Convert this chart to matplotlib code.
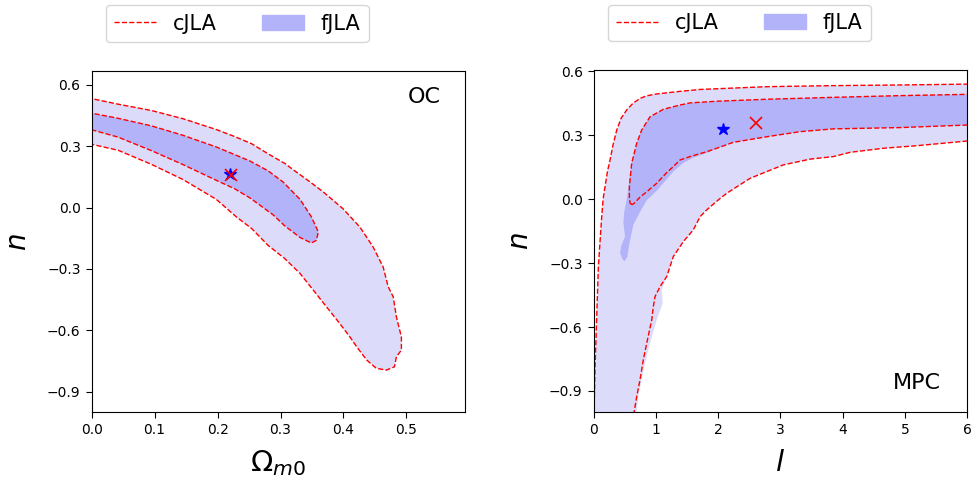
import matplotlib
matplotlib.use("Agg")
import matplotlib.pyplot as plt
from matplotlib.lines import Line2D
from matplotlib.patches import Patch

# ---- OC model: (Omega_m0, n) confidence contours ----
# 2-sigma region (same contour for cJLA line and fJLA fill)
oc_out_x = [-0.03, 0.0, 0.042, 0.095, 0.145, 0.198, 0.227, 0.254, 0.280, 0.307, 0.320,
            0.347, 0.368, 0.399, 0.426, 0.447, 0.463, 0.471, 0.479, 0.484, 0.492, 0.492,
            0.484, 0.481, 0.468, 0.452, 0.437, 0.421, 0.410, 0.394, 0.373, 0.352, 0.331,
            0.307, 0.280, 0.254, 0.230, 0.198, 0.145, 0.095, 0.042, 0.0, -0.03]
oc_out_y = [0.55, 0.532, 0.505, 0.474, 0.434, 0.381, 0.347, 0.312, 0.263, 0.215, 0.185,
            0.125, 0.076, -0.005, -0.095, -0.192, -0.290, -0.387, -0.436, -0.534, -0.632, -0.696,
            -0.729, -0.778, -0.794, -0.785, -0.745, -0.680, -0.631, -0.566, -0.485, -0.403, -0.322,
            -0.250, -0.184, -0.102, -0.046, 0.040, 0.137, 0.211, 0.280, 0.309, 0.33]
# 1-sigma region
oc_in_x = [-0.03, 0.0, 0.042, 0.095, 0.145, 0.198, 0.251, 0.280, 0.304, 0.331, 0.349,
           0.360, 0.357, 0.349, 0.331, 0.307, 0.288, 0.251, 0.227, 0.198, 0.145, 0.095,
           0.042, 0.0, -0.03]
oc_in_y = [0.475, 0.461, 0.436, 0.399, 0.353, 0.296, 0.228, 0.180, 0.125, 0.040, -0.045,
           -0.119, -0.160, -0.173, -0.146, -0.090, -0.035, 0.048, 0.092, 0.133, 0.210, 0.278,
           0.344, 0.380, 0.40]
oc_best_f = (0.22, 0.165)
oc_best_c = (0.221, 0.158)

# ---- MPC model: (l, n) confidence contours ----
mpc_out_x = [0.0, 0.005, 0.021, 0.048, 0.074, 0.110, 0.128, 0.150, 0.182, 0.220, 0.262,
             0.310, 0.370, 0.440, 0.530, 0.630, 0.744, 0.850, 1.013, 1.387, 1.709, 2.780,
             3.851, 4.923, 6.0, 6.3, 6.3, 6.0, 5.190, 4.654, 4.120, 3.851, 3.476, 3.047,
             2.512, 2.138, 2.003, 1.816, 1.709, 1.600, 1.440, 1.279, 1.173, 1.066, 0.985,
             0.958, 0.932, 0.852, 0.797, 0.744, 0.691, 0.648, 0.63]
mpc_out_y = [-1.1, -0.99, -0.785, -0.550, -0.316, -0.160, -0.082, 0.0, 0.060, 0.130, 0.184,
             0.255, 0.325, 0.380, 0.419, 0.450, 0.473, 0.485, 0.494, 0.506, 0.515, 0.528,
             0.533, 0.536, 0.540, 0.545, 0.270, 0.273, 0.251, 0.239, 0.220, 0.200, 0.188, 0.161,
             0.098, 0.028, -0.003, -0.050, -0.082, -0.144, -0.199, -0.269, -0.363, -0.410, -0.457,
             -0.503, -0.566, -0.675, -0.753, -0.847, -0.925, -1.0, -1.1]
# fJLA outer region bulges out slightly on the lower branch
mpc_out_fill_x = mpc_out_x[:43] + [1.093, 1.109, 1.013, 0.900, 0.800, 0.720, 0.690, 0.68]
mpc_out_fill_y = mpc_out_y[:43] + [-0.425, -0.488, -0.566, -0.680, -0.800, -0.920, -1.0, -1.1]

mpc_in_x = [0.610, 0.584, 0.573, 0.573, 0.610, 0.691, 0.771, 0.905, 1.119, 1.387, 1.550,
            2.000, 2.780, 3.851, 4.923, 6.0, 6.3, 6.3, 6.0, 4.923, 3.851, 3.318, 2.780,
            2.245, 1.977, 1.816, 1.548, 1.387, 1.279, 1.173, 1.013, 0.852, 0.744, 0.640]
mpc_in_y = [-0.025, -0.019, 0.010, 0.059, 0.169, 0.263, 0.325, 0.387, 0.422, 0.442, 0.452,
            0.460, 0.469, 0.478, 0.486, 0.492, 0.495, 0.350, 0.348, 0.336, 0.330, 0.317, 0.293,
            0.267, 0.239, 0.223, 0.200, 0.184, 0.153, 0.125, 0.075, 0.035, 0.010, -0.022]
# fJLA 1-sigma region has a tail running down to n ~ -0.29
mpc_in_fill_x = [0.610, 0.691, 0.771, 0.905, 1.119, 1.387, 1.550, 2.000, 2.780, 3.851, 4.923,
                 6.0, 6.3, 6.3, 6.0, 4.923, 3.851, 3.318, 2.780, 2.245, 2.000, 1.800, 1.600,
                 1.440, 1.279, 1.013, 0.852, 0.744, 0.637, 0.573, 0.541, 0.500, 0.466, 0.423,
                 0.440, 0.503, 0.476, 0.490, 0.530, 0.560, 0.580]
mpc_in_fill_y = [0.169, 0.263, 0.325, 0.387, 0.422, 0.442, 0.452, 0.460, 0.469, 0.478, 0.486,
                 0.492, 0.495, 0.350, 0.348, 0.336, 0.330, 0.317, 0.293, 0.267, 0.240, 0.215, 0.195,
                 0.170, 0.130, 0.040, -0.005, -0.060, -0.120, -0.206, -0.269, -0.290, -0.285, -0.253,
                 -0.220, -0.175, -0.113, -0.060, 0.000, 0.060, 0.120]
mpc_best_f = (2.083, 0.330)
mpc_best_c = (2.609, 0.359)

light = "#dcdcfa"
dark = "#b3b3fa"

fig = plt.figure(figsize=(9.74, 4.87), dpi=100)
ax1 = fig.add_axes([0.0941, 0.1534, 0.3833, 0.7008])
ax2 = fig.add_axes([0.6096, 0.1534, 0.3833, 0.7023])


def draw_panel(ax, out_fill, in_fill, out_line, in_line, best_f, best_c):
    ax.fill(out_fill[0], out_fill[1], color=light, lw=0)
    ax.fill(in_fill[0], in_fill[1], color=dark, lw=0)
    for xs, ys in (out_line, in_line):
        ax.plot(xs + xs[:1], ys + ys[:1], "r--", lw=1)
    ax.plot(*best_f, marker="*", color="blue", ms=9, ls="none")
    ax.plot(*best_c, marker="x", color="red", ms=8, mew=1.2, ls="none")
    handles = [Line2D([], [], color="red", ls="--", lw=1),
               Patch(facecolor=dark, edgecolor=dark)]
    ax.legend(handles, ["cJLA", "fJLA"], ncol=2, fontsize=15, loc="lower center",
              bbox_to_anchor=(0.39, 1.085), borderaxespad=0, columnspacing=2.2)
    ax.set_ylabel(r"$n$", fontsize=20, labelpad=11)
    ax.tick_params(labelsize=10, length=4, pad=4)


draw_panel(ax1, (oc_out_x, oc_out_y), (oc_in_x, oc_in_y),
           (oc_out_x, oc_out_y), (oc_in_x, oc_in_y), oc_best_f, oc_best_c)
ax1.set_xlim(0, 0.593)
ax1.set_ylim(-1.0, 0.667)
ax1.set_xticks([0.0, 0.1, 0.2, 0.3, 0.4, 0.5])
ax1.set_yticks([-0.9, -0.6, -0.3, 0.0, 0.3, 0.6])
ax1.set_xlabel(r"$\Omega_{m0}$", fontsize=21, labelpad=8)
ax1.text(0.935, 0.924, "OC", transform=ax1.transAxes, fontsize=16, ha="right", va="center")

draw_panel(ax2, (mpc_out_fill_x, mpc_out_fill_y), (mpc_in_fill_x, mpc_in_fill_y),
           (mpc_out_x, mpc_out_y), (mpc_in_x, mpc_in_y), mpc_best_f, mpc_best_c)
ax2.set_xlim(0, 6)
ax2.set_ylim(-1.0, 0.605)
ax2.set_xticks([0, 1, 2, 3, 4, 5, 6])
ax2.set_yticks([-0.9, -0.6, -0.3, 0.0, 0.3, 0.6])
ax2.set_xlabel(r"$l$", fontsize=21, labelpad=8)
ax2.text(0.93, 0.086, "MPC", transform=ax2.transAxes, fontsize=16, ha="right", va="center")

fig.savefig("out.png", dpi=100)
